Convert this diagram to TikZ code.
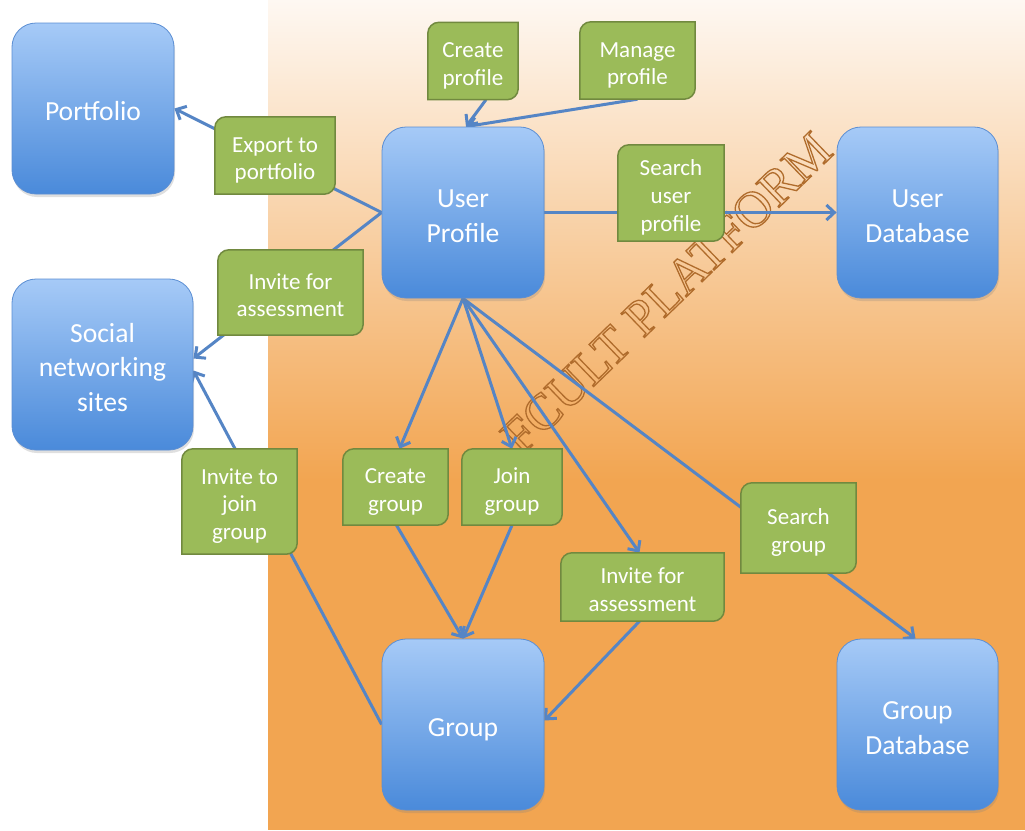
\documentclass[tikz,border=0pt]{standalone}
\usepackage{fontspec}
\setmainfont{Carlito}
\newfontfamily\wmfont{Liberation Serif}
\usetikzlibrary{arrows.meta,shadows,calc}
\definecolor{bTop}{HTML}{A6CAF7}
\definecolor{bBot}{HTML}{4A8ADA}
\definecolor{bLine}{HTML}{5B8ED3}
\definecolor{gFill}{HTML}{9BBB59}
\definecolor{gLine}{HTML}{71893F}
\definecolor{aBlue}{HTML}{5585C5}
\definecolor{orng}{HTML}{F2A551}
\definecolor{orTop}{HTML}{FEF8F2}
\definecolor{wmc}{HTML}{B06C2C}
\pgfdeclarelayer{bg}\pgfdeclarelayer{lines}\pgfdeclarelayer{boxes}
\pgfsetlayers{bg,lines,boxes,main}
\newcommand\Tp{\rule{0pt}{1.1em}}
\newcommand\Bt{\rule[-0.2em]{0pt}{0pt}}
\newcommand\snipbox[1]{\filldraw[gbox]
  ($(#1.north west)!11pt!(#1.south west)$) .. controls ($(#1.north west)!5pt!(#1.south west)$) and ($(#1.north west)!5pt!(#1.north east)$) .. ($(#1.north west)!11pt!(#1.north east)$)
  -- (#1.north east)
  -- ($(#1.south east)!11pt!(#1.north east)$) .. controls ($(#1.south east)!5pt!(#1.north east)$) and ($(#1.south east)!5pt!(#1.south west)$) .. ($(#1.south east)!11pt!(#1.south west)$)
  -- (#1.south west) -- cycle;}
\tikzset{
  bluebox/.style={rounded corners=24pt, top color=bTop, bottom color=bBot, draw=bLine, line width=0.8pt,
    text=white, font=\fontsize{27.6}{34.4}\selectfont, align=center, minimum width=162pt, minimum height=171pt,
    inner sep=0pt, drop shadow={opacity=0.25,shadow xshift=1pt,shadow yshift=-3pt}},
  grn/.style={text=white, font=\fontsize{23}{27.7}\selectfont, align=center, inner sep=0pt},
  gbox/.style={fill=gFill, draw=gLine, line width=1.5pt},
  conn/.style={draw=aBlue, line width=3pt, -{Straight Barb[length=8pt,width=15pt]}},
}
\begin{document}
\begin{tikzpicture}[x=1pt,y=-1pt]
\useasboundingbox (0,0) rectangle (1025,830);
\begin{pgfonlayer}{bg}
  \fill[white] (0,0) rectangle (1025,830);
  \fill[top color=orTop, bottom color=orng] (268,0) rectangle (1025,480);
  \fill[orng] (268,479) rectangle (1025,830);
  \node[rotate=44, anchor=base, text=wmc, font=\wmfont\fontsize{51}{51}\selectfont, inner sep=0pt] (wm) at (678,305)
    {\special{pdf:literal direct 1 Tr 1.3 w}FCULT PLATFORM\special{pdf:literal direct 0 Tr}};
\end{pgfonlayer}

% blue boxes
\node[bluebox] (port) at (93,108.5) {\Tp Portfolio\Bt};
\node[bluebox] (up) at (463,212.5) {\Tp User\\Profile\Bt};
\node[bluebox, minimum width=181pt] (sns) at (102.5,364.5) {\Tp Social\\networking\\sites\Bt};
\node[bluebox, minimum width=161pt] (udb) at (917.5,212.5) {\Tp User\\Database\Bt};
\node[bluebox] (grp) at (463,724.5) {\Tp Group\Bt};
\node[bluebox, minimum width=161pt] (gdb) at (917.5,724.5) {\Tp Group\\Database\Bt};

% green labels
\node[grn, minimum width=120pt, minimum height=77pt] (exp) at (275,155.5) {\Tp Export to\\portfolio\Bt};
\node[grn, minimum width=145pt, minimum height=85pt] (ifa1) at (290.5,292.5) {\Tp Invite for\\assessment\Bt};
\node[grn, minimum width=90pt, minimum height=77pt] (cprof) at (473,61) {\Tp Create\\profile\Bt};
\node[grn, minimum width=115pt, minimum height=77pt] (mprof) at (637.5,60.5) {\Tp Manage\\profile\Bt};
\node[grn, minimum width=106pt, minimum height=96pt] (sup) at (671,193) {\Tp Search\\user\\profile\Bt};
\node[grn, minimum width=115pt, minimum height=105pt] (ijg) at (239.5,501.5) {\Tp Invite to\\join\\group\Bt};
\node[grn, minimum width=105pt, minimum height=76pt] (cgrp) at (395.5,487) {\Tp Create\\group\Bt};
\node[grn, minimum width=100pt, minimum height=76pt] (jgrp) at (512,487) {\Tp Join\\group\Bt};
\node[grn, minimum width=163pt, minimum height=68pt] (ifa2) at (642.5,587) {\Tp Invite for\\assessment\Bt};
\node[grn, minimum width=115pt, minimum height=90pt] (sgrp) at (798.5,528) {\Tp Search\\group\Bt};

\begin{pgfonlayer}{boxes}
  \foreach \n in {exp,ifa1,cprof,mprof,sup,ijg,cgrp,jgrp,ifa2,sgrp} {\snipbox{\n}}
\end{pgfonlayer}

\begin{pgfonlayer}{lines}
  \draw[conn] (up.west) -- (port.east);
  \draw[conn] (up.west) -- ([yshift=6pt]sns.east);
  \draw[conn] (grp.west) -- ([yshift=-6pt]sns.east);
  \draw[conn] ([xshift=13pt]cprof.south) -- ([xshift=3pt]up.north);
  \draw[conn] (mprof.south) -- ([xshift=3pt]up.north);
  \draw[conn] (up.east) -- (udb.west);
  \draw[conn] (up.south) -- ([xshift=4pt]cgrp.north);
  \draw[conn] (up.south) -- (jgrp.north);
  \draw[conn] (up.south) -- ([xshift=-3pt]ifa2.north);
  \draw[conn] (up.south) -- ([xshift=-2pt]gdb.north);
  \draw[conn] ([xshift=1pt]cgrp.south) -- (grp.north);
  \draw[conn] (jgrp.south) -- (grp.north);
  \draw[conn] ([xshift=-3pt]ifa2.south) -- ([yshift=4pt]grp.east);
\end{pgfonlayer}
\end{tikzpicture}
\end{document}
